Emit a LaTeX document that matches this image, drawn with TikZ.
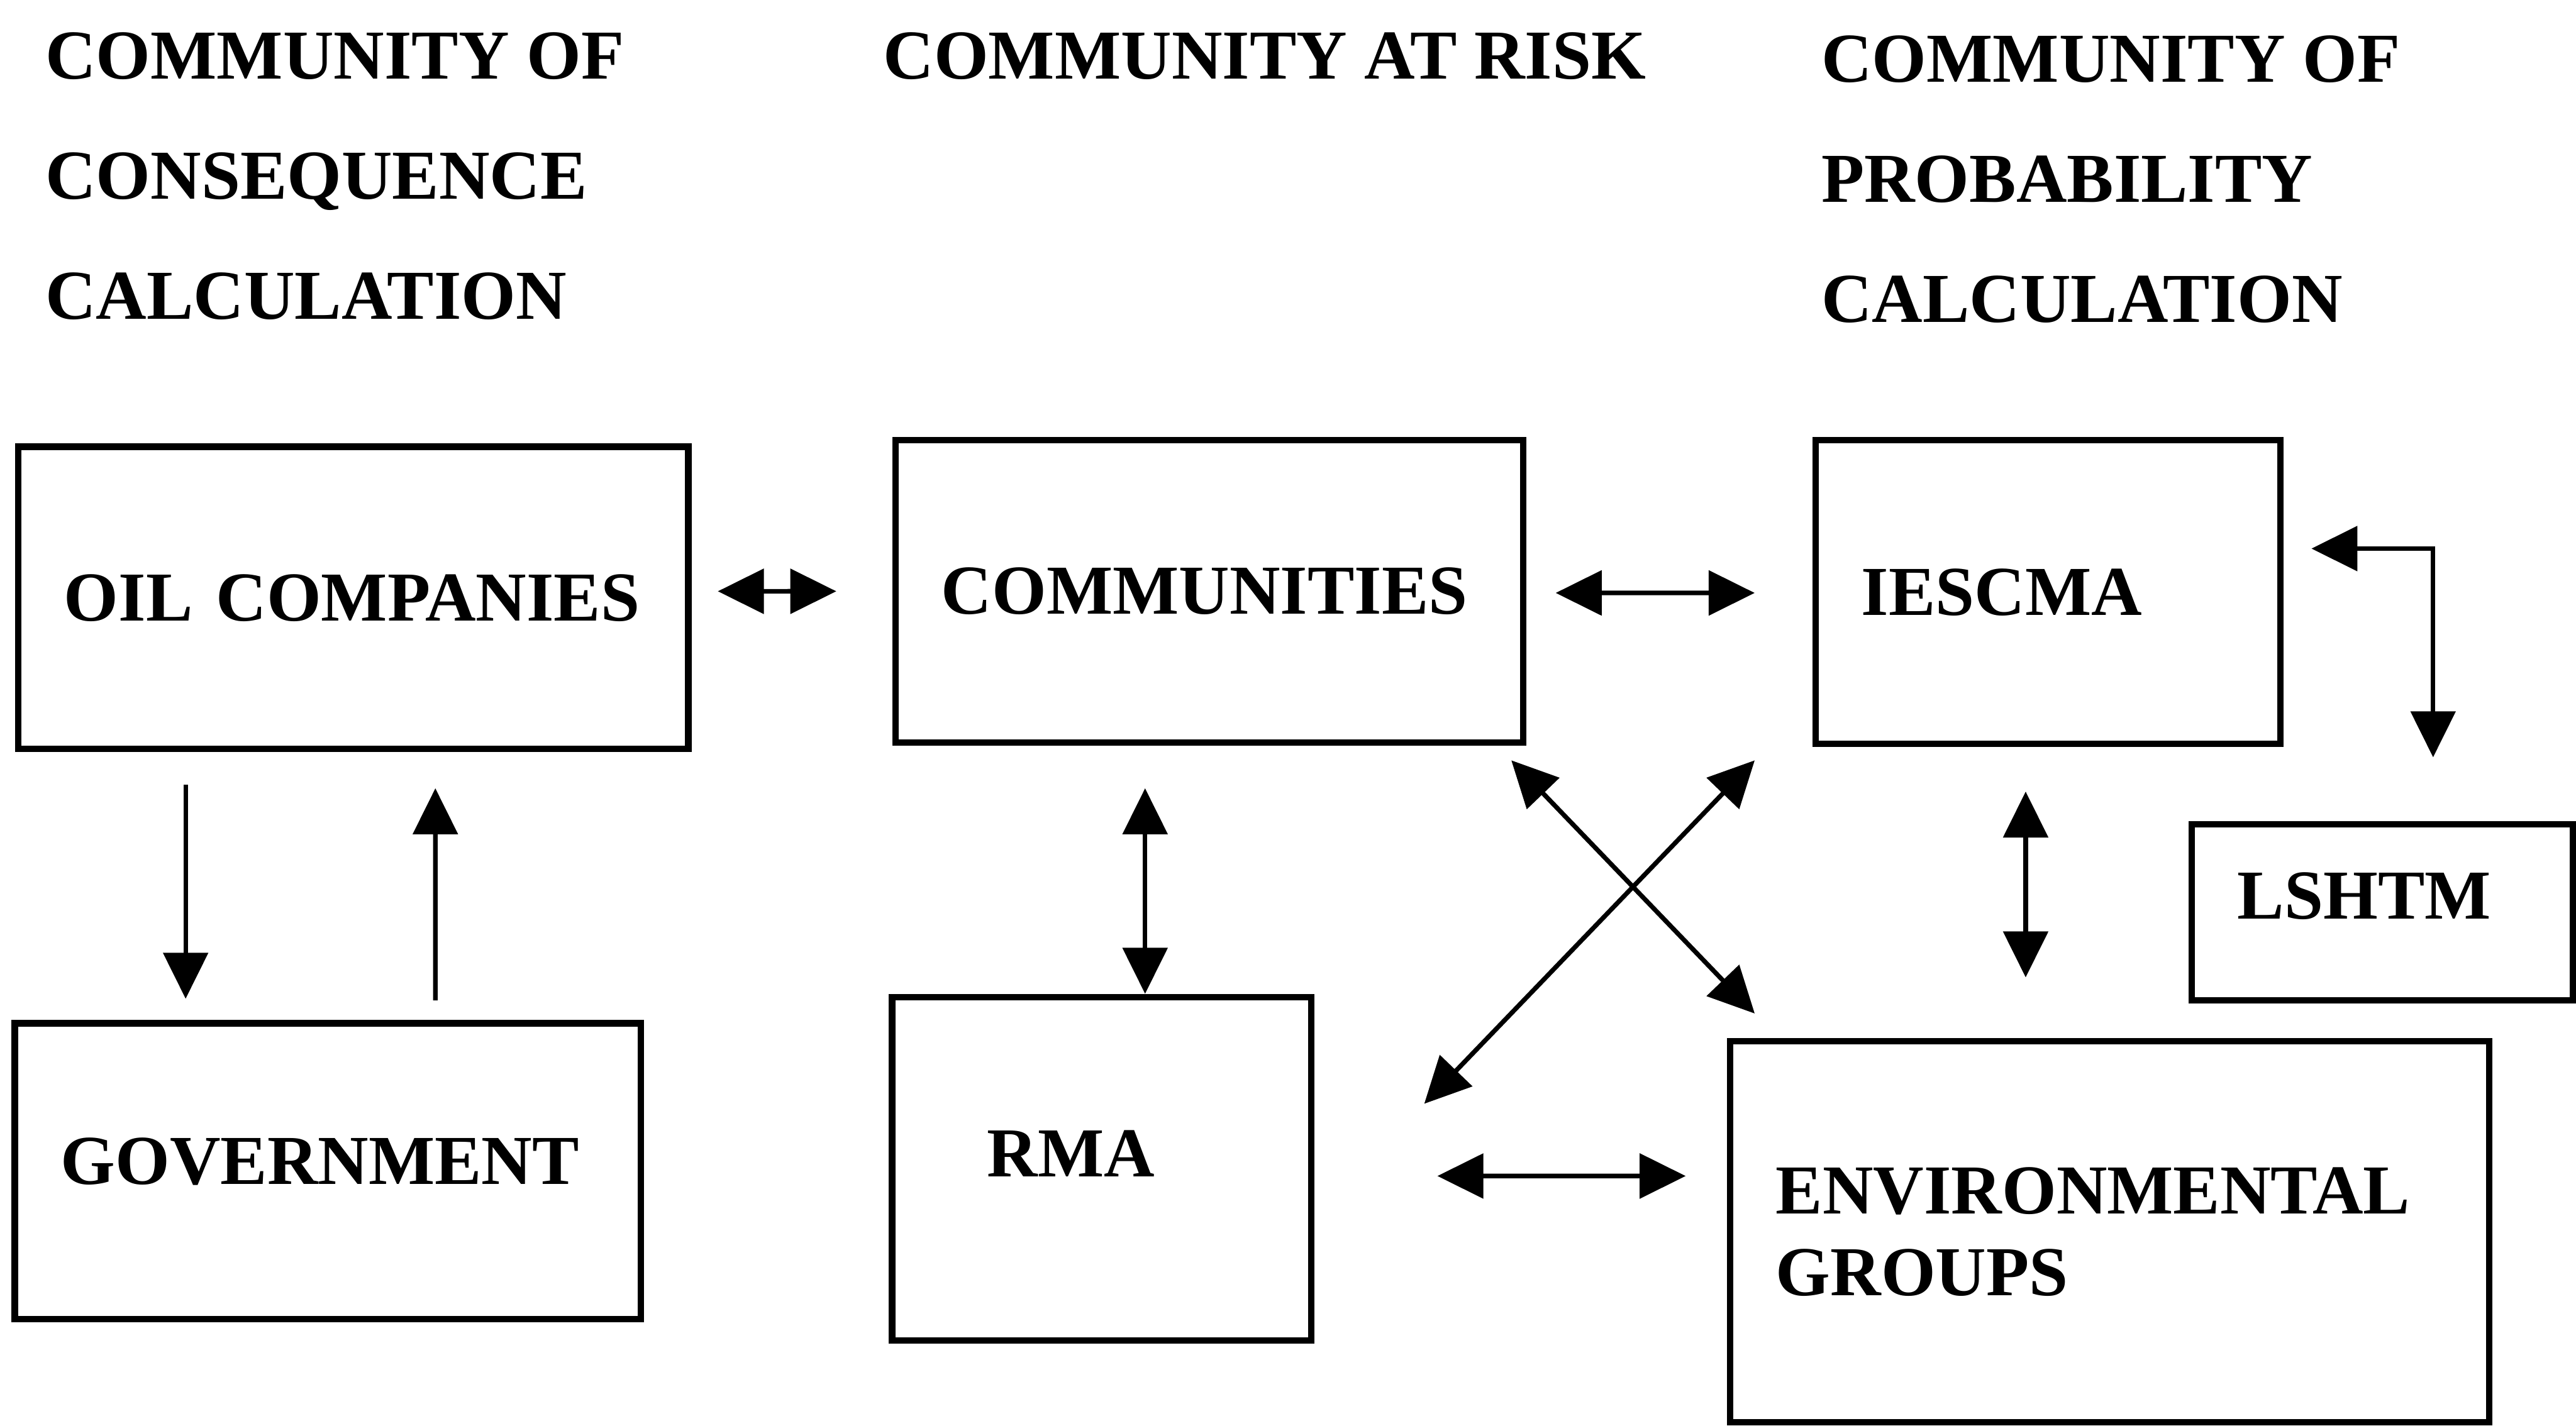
\documentclass[tikz,border=0pt]{standalone}
\usepackage{fontspec}
\setmainfont{Liberation Serif}
\usetikzlibrary{arrows.meta}

\tikzset{
	box/.style={draw, line width=1.1pt, align=left, inner xsep=0.28cm, inner ysep=0pt, font=\fontsize{12.15}{14.2}\selectfont\bfseries},
	head/.style={anchor=north west, align=left, inner sep=0pt, font=\fontsize{12.15}{20.8}\selectfont\bfseries},
	link/.style={line width=0.8pt, >={Triangle[length=2.8mm,width=2.7mm]}}
}

\begin{document}
\begin{tikzpicture}
	\useasboundingbox (0,0) rectangle (15.68,8.68);
	
	% Draw the column titles
	\node[head] (hcons) at (0.27,8.49) {COMMUNITY OF\\CONSEQUENCE\\CALCULATION};
	\node[head] (hrisk) at (5.37,8.49) {COMMUNITY AT RISK};
	\node[head] (hprob) at (11.08,8.47) {COMMUNITY OF\\PROBABILITY\\CALCULATION};
	
	% Draw the boxes
	\node[box, minimum width=4.08cm, minimum height=1.84cm, text width=3.52cm] (oil) at (2.15,5.04) {OIL COMPANIES};
	\node[box, minimum width=3.82cm, minimum height=1.84cm, text width=3.26cm] (comm) at (7.36,5.08) {COMMUNITIES};
	\node[box, minimum width=2.83cm, minimum height=1.85cm, text width=2.27cm] (iescma) at (12.465,5.075) {IESCMA};
	\node[box, minimum width=2.32cm, minimum height=1.07cm, text width=1.76cm, text depth=0.2cm] (lshtm) at (14.50,3.125) {LSHTM};
	\node[box, minimum width=3.81cm, minimum height=1.80cm, text width=3.25cm, text depth=0.12cm] (gov) at (1.995,1.55) {GOVERNMENT};
	\node[box, minimum width=2.55cm, minimum height=2.09cm, inner xsep=0.58cm, text width=1.39cm, text depth=0.18cm] (rma) at (6.705,1.565) {RMA};
	\node[box, minimum width=4.62cm, minimum height=2.32cm, text width=4.06cm] (env) at (12.84,1.18) {ENVIRONMENTAL\\GROUPS};
	
	% Draw the links between the boxes
	\draw[link, <->] ([xshift=0.16cm,yshift=0.04cm]oil.east) -- ([xshift=-0.34cm]comm.west);
	\draw[link, <->] ([xshift=0.18cm,yshift=-0.01cm]comm.east) -- ([xshift=-0.35cm,yshift=-0.005cm]iescma.west);
	\draw[link, <->] ([xshift=0.17cm,yshift=0.265cm]iescma.east) -| ([xshift=0.31cm,yshift=0.39cm]lshtm.north);
	\draw[link, ->] ([xshift=-1.02cm,yshift=-0.20cm]oil.south) -- ([xshift=-0.865cm,yshift=0.13cm]gov.north);
	\draw[link, ->] ([xshift=0.655cm,yshift=0.12cm]gov.north) -- ([xshift=0.50cm,yshift=-0.22cm]oil.south);
	\draw[link, <->] ([xshift=-0.39cm,yshift=-0.26cm]comm.south) -- ([xshift=0.265cm]rma.north);
	\draw[link, <->] ([xshift=-0.135cm,yshift=-0.27cm]iescma.south) -- ([xshift=-0.51cm,yshift=0.37cm]env.north);
	\draw[link, <->] ([xshift=0.75cm,yshift=-0.045cm]rma.east) -- ([xshift=-0.25cm,yshift=0.34cm]env.west);
	
	% Draw the crossing links
	\draw[link, <->] ([xshift=-0.09cm,yshift=-0.09cm]comm.south east) -- ([xshift=0.17cm,yshift=0.15cm]env.north west);
	\draw[link, <->] ([xshift=-0.35cm,yshift=-0.08cm]iescma.south west) -- ([xshift=0.67cm,yshift=0.395cm]rma.east);
	
\end{tikzpicture}
\end{document}
